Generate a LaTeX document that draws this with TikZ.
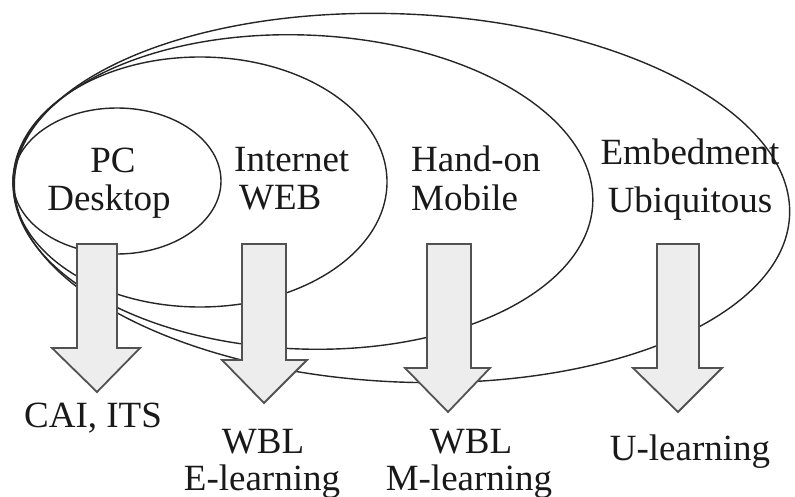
\documentclass[tikz,border=0pt]{standalone}
\usepackage{fontspec}
\setmainfont{Liberation Serif}
\begin{document}
\begin{tikzpicture}[x=1pt,y=-1pt,
  ring/.style={draw=black!85,line width=1.4pt},
  blockarrow/.style={draw=black!68,fill=black!7,line width=1.8pt,line join=miter},
  lbl/.style={inner sep=0pt,font=\fontsize{37}{40}\selectfont,text=black!90}]
\useasboundingbox (0,0) rectangle (795,497);

% nested technology ellipses sharing the left edge
\draw[ring,rotate around={-2.6:(402,198)}] (402,198) ellipse [x radius=388, y radius=184];
\draw[ring,rotate around={-2.2:(303,192)}] (303,192) ellipse [x radius=290, y radius=157];
\draw[ring] (200,182) ellipse [x radius=187, y radius=125];
\draw[ring] (117,181) ellipse [x radius=104, y radius=73];

% block arrows pointing down to the learning forms
\draw[blockarrow] (77,244) -- (117,244) -- (117,348) -- (140,348) -- (97,392) -- (52,348) -- (77,348) -- cycle;
\draw[blockarrow] (242,244) -- (286,244) -- (286,360) -- (307,360) -- (264,403) -- (222,360) -- (242,360) -- cycle;
\draw[blockarrow] (427,244) -- (471,244) -- (471,368) -- (490,368) -- (448,412) -- (405,368) -- (427,368) -- cycle;
\draw[blockarrow] (657,244) -- (699,244) -- (699,368) -- (722,368) -- (678,412) -- (633,368) -- (657,368) -- cycle;

% technology labels
\node[lbl,anchor=base] (pc) at (113,173) {PC};
\node[lbl,anchor=base] (desktop) at (109,211) {Desktop};
\node[lbl,anchor=base west] (internet) at (234,172) {Internet};
\node[lbl,anchor=base west] (web) at (239,210) {WEB};
\node[lbl,anchor=base west] (handon) at (411,172) {Hand-on};
\node[lbl,anchor=base west] (mobile) at (411,211) {Mobile};
\node[lbl,anchor=base] (embed) at (690,165) {Embedment};
\node[lbl,anchor=base] (ubiq) at (690,213) {Ubiquitous};

% learning-form labels
\node[lbl,anchor=base] (cai) at (93,427) {CAI, ITS};
\node[lbl,anchor=base] (wbla) at (263,453) {WBL};
\node[lbl,anchor=base] (elearn) at (262,490) {E-learning};
\node[lbl,anchor=base] (wblb) at (471,453) {WBL};
\node[lbl,anchor=base] (mlearn) at (469,490) {M-learning};
\node[lbl,anchor=base] (ulearn) at (690,460) {U-learning};
\end{tikzpicture}
\end{document}
